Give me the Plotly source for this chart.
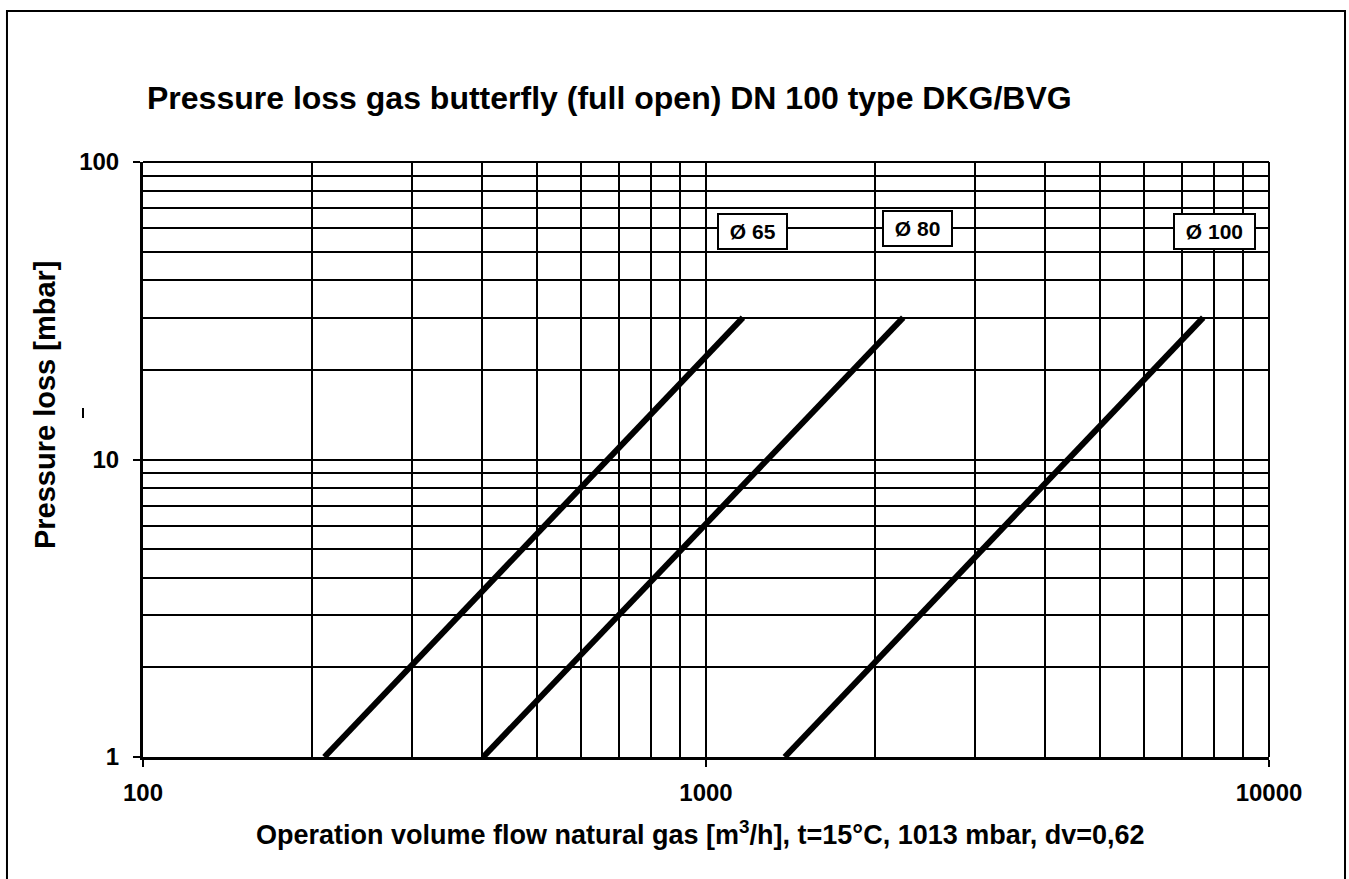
import math
import plotly.graph_objects as go

# Data
dp_mbar = [1, 30]
flow_d65 = [210, 1163]
flow_d80 = [402, 2240]
flow_d100 = [1380, 7640]

series_names = ["Ø 65", "Ø 80", "Ø 100"]
label_flow = [1207, 2371, 8017]
label_dp = [58.2, 60.0, 58.2]

x_ticks = [100, 1000, 10000]
y_ticks = [1, 10, 100]
x_minor = [200, 300, 400, 500, 600, 700, 800, 900,
           2000, 3000, 4000, 5000, 6000, 7000, 8000, 9000]
y_minor = [2, 3, 4, 5, 6, 7, 8, 9, 20, 30, 40, 50, 60, 70, 80, 90]

FONT = "Arial, 'Liberation Sans', sans-serif"

fig = go.Figure()
for name, flow in zip(series_names, [flow_d65, flow_d80, flow_d100]):
    fig.add_trace(go.Scatter(x=flow, y=dp_mbar, mode="lines", name=name,
                             line=dict(color="black", width=6),
                             showlegend=False, hoverinfo="x+y"))

axis_common = dict(
    type="log", showline=True, linecolor="black", linewidth=3,
    showgrid=True, gridcolor="black", gridwidth=2,
    ticks="outside", ticklen=7, tickwidth=2, tickcolor="black",
    tickfont=dict(family=FONT, size=24, color="black", weight="bold"),
    zeroline=False,
)

fig.update_xaxes(**axis_common, range=[2, 4], tickvals=x_ticks,
                 ticktext=[str(v) for v in x_ticks], ticklabelstandoff=5,
                 minor=dict(tickvals=x_minor, showgrid=True, gridcolor="black",
                            gridwidth=2, ticks=""))
fig.update_yaxes(**axis_common, range=[0, 2], tickvals=y_ticks,
                 ticktext=[str(v) for v in y_ticks], ticklabelstandoff=9,
                 minor=dict(tickvals=y_minor, showgrid=True, gridcolor="black",
                            gridwidth=2, ticks=""))

annotations = []
for name, fx, fy in zip(series_names, label_flow, label_dp):
    annotations.append(dict(x=math.log10(fx), y=math.log10(fy), xref="x", yref="y",
                            text="<b>&nbsp;%s&nbsp;</b>" % name, showarrow=False,
                            font=dict(family=FONT, size=21, color="black"),
                            bgcolor="white", bordercolor="black", borderwidth=2,
                            borderpad=5))

annotations.append(dict(x=0.4947, y=-0.128, xref="paper", yref="paper",
                        text="<b>Operation volume flow natural gas [m<sup>3</sup>/h], t=15°C, 1013 mbar, dv=0,62</b>",
                        showarrow=False, xanchor="center", yanchor="middle",
                        font=dict(family=FONT, size=27, color="black")))
annotations.append(dict(x=-0.087, y=0.5916, xref="paper", yref="paper",
                        text="<b>Pressure loss [mbar]</b>", textangle=-90,
                        showarrow=False, xanchor="center", yanchor="middle",
                        font=dict(family=FONT, size=29, color="black")))

shapes = [
    # outer frame
    dict(type="rect", xref="paper", yref="paper", x0=-0.1208, x1=1.0675,
         y0=-0.25, y1=1.2538, line=dict(color="black", width=2), layer="below"),
    # top and right borders of plot area
    dict(type="line", xref="paper", yref="paper", x0=0, x1=1, y0=1, y1=1,
         line=dict(color="black", width=2)),
    dict(type="line", xref="paper", yref="paper", x0=1, x1=1, y0=0, y1=1,
         line=dict(color="black", width=2)),
    # small stray mark near the y title
    dict(type="line", xref="paper", yref="paper", x0=-0.0533, x1=-0.0533,
         y0=0.5697, y1=0.5866, line=dict(color="black", width=2)),
]

fig.update_layout(
    width=1349, height=879,
    margin=dict(l=143, r=80, t=162, b=122),
    paper_bgcolor="white", plot_bgcolor="white",
    title=dict(text="<b>Pressure loss gas butterfly (full open) DN 100 type DKG/BVG</b>",
               x=147 / 1349, xref="container", xanchor="left",
               y=1 - 98 / 879, yref="container", yanchor="middle",
               font=dict(family=FONT, size=32, color="black")),
    annotations=annotations,
    shapes=shapes,
    font=dict(family=FONT, color="black"),
)

fig.write_html("out.html", config={"displayModeBar": False},
               post_script="document.body.style.margin='0';document.body.style.overflow='hidden';")
